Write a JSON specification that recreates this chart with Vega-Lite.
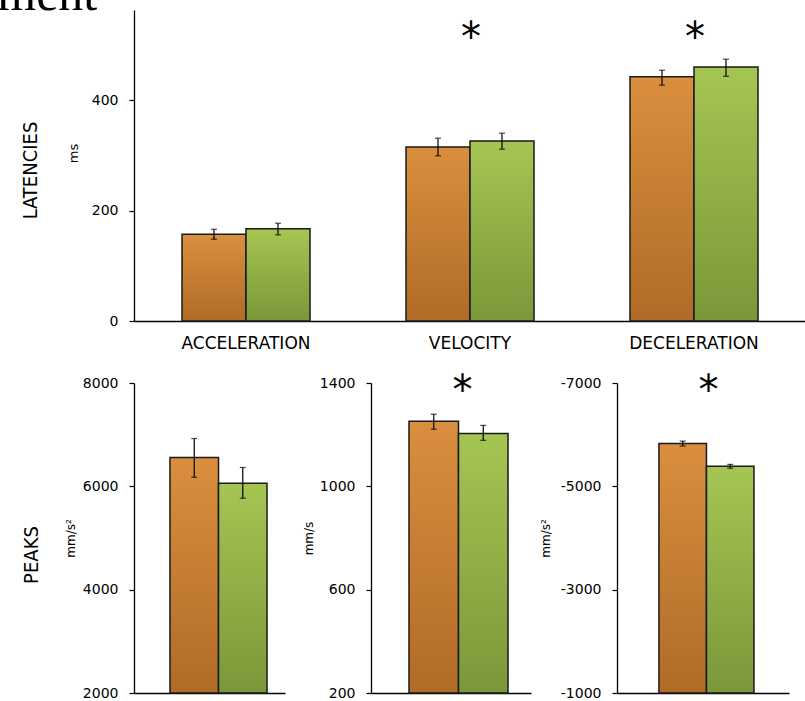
{
  "$schema": "https://vega.github.io/schema/vega-lite/v6.json",
  "padding": {"left": -3, "top": -30, "right": 0, "bottom": 0},
  "title": {"text": "ment", "anchor": "start", "frame": "bounds", "font": "Liberation Serif", "fontSize": 50, "fontWeight": "normal", "color": "#000", "dx": -24, "offset": -10},
  "datasets": {
    "lat": [
      {"phase": "ACCELERATION", "group": "A", "mean": 157, "lo": 148, "hi": 166},
      {"phase": "ACCELERATION", "group": "B", "mean": 167, "lo": 156, "hi": 177},
      {"phase": "VELOCITY", "group": "A", "mean": 315, "lo": 299, "hi": 331},
      {"phase": "VELOCITY", "group": "B", "mean": 326, "lo": 311, "hi": 340},
      {"phase": "DECELERATION", "group": "A", "mean": 442, "lo": 427, "hi": 454},
      {"phase": "DECELERATION", "group": "B", "mean": 460, "lo": 443, "hi": 474}
    ],
    "acc": [
      {"phase": "ACCELERATION", "group": "A", "mean": 6560, "lo": 6175, "hi": 6925},
      {"phase": "ACCELERATION", "group": "B", "mean": 6060, "lo": 5770, "hi": 6365}
    ],
    "vel": [
      {"phase": "VELOCITY", "group": "A", "mean": 1252, "lo": 1221, "hi": 1279},
      {"phase": "VELOCITY", "group": "B", "mean": 1205, "lo": 1178, "hi": 1236}
    ],
    "dec": [
      {"phase": "DECELERATION", "group": "A", "mean": -5830, "lo": -5780, "hi": -5875},
      {"phase": "DECELERATION", "group": "B", "mean": -5387, "lo": -5350, "hi": -5425}
    ],
    "stars": [
      {"phase": "VELOCITY", "sig": "*"},
      {"phase": "DECELERATION", "sig": "*"}
    ]
  },
  "config": {
    "view": {"stroke": null},
    "font": "DejaVu Sans",
    "axis": {"domainColor": "#000", "domainWidth": 1.3, "tickColor": "#000", "tickWidth": 1.2, "tickSize": 5, "labelColor": "#000", "labelFont": "DejaVu Sans", "labelFontSize": 14, "labelPadding": 11, "titleFont": "DejaVu Sans", "titleFontWeight": "normal", "titleColor": "#000", "grid": false},
    "title": {"font": "Liberation Sans Narrow, DejaVu Sans Condensed, sans-serif", "fontWeight": "normal", "color": "#000"}
  },
  "bounds": "flush",
  "spacing": 62,
  "resolve": {"scale": {"x": "independent", "y": "independent", "xOffset": "independent"}},
  "vconcat": [
    {
      "width": 672,
      "height": 311,
      "title": {"text": "LATENCIES", "orient": "left", "fontSize": 20, "offset": 26, "dx": -5},
      "data": {"name": "lat"},
      "encoding": {
        "x": {"field": "phase", "type": "nominal", "sort": ["ACCELERATION", "VELOCITY", "DECELERATION"], "scale": {"paddingInner": 0, "paddingOuter": 0}, "axis": {"title": null, "labelAngle": 0, "ticks": false, "labelPadding": 14, "labelFontSize": 17}}
      },
      "layer": [
        {
          "mark": {"type": "bar", "stroke": "#1a1a1a", "strokeWidth": 1.5},
          "encoding": {
            "xOffset": {"field": "group", "type": "nominal", "scale": {"paddingInner": 0, "paddingOuter": 0.75}},
            "y": {"field": "mean", "type": "quantitative", "title": "ms", "scale": {"domain": [0, 563], "nice": false}, "axis": {"values": [0, 200, 400], "title": "ms", "titleFontSize": 13, "titlePadding": 11, "titleY": 143}},
            "fill": {"condition": {"test": "datum.group === 'A'", "value": {"gradient": "linear", "x1": 0, "y1": 0, "x2": 0, "y2": 1, "stops": [{"offset": 0, "color": "#d98f3e"}, {"offset": 1, "color": "#b06b28"}]}}, "value": {"gradient": "linear", "x1": 0, "y1": 0, "x2": 0, "y2": 1, "stops": [{"offset": 0, "color": "#a5c553"}, {"offset": 1, "color": "#7a9839"}]}}
          }
        },
        {
          "mark": {"type": "rule", "color": "#000", "strokeWidth": 1.2},
          "encoding": {
            "xOffset": {"field": "group", "type": "nominal", "scale": {"paddingInner": 0, "paddingOuter": 0.75}},
            "y": {"field": "lo", "type": "quantitative", "title": "ms", "axis": {"values": [0, 200, 400], "title": "ms", "titleFontSize": 13, "titlePadding": 11, "titleY": 143}},
            "y2": {"field": "hi"}
          }
        },
        {
          "mark": {"type": "tick", "color": "#000", "size": 6, "thickness": 1.2},
          "encoding": {
            "xOffset": {"field": "group", "type": "nominal", "scale": {"paddingInner": 0, "paddingOuter": 0.75}},
            "y": {"field": "lo", "type": "quantitative", "title": "ms", "axis": {"values": [0, 200, 400], "title": "ms", "titleFontSize": 13, "titlePadding": 11, "titleY": 143}}
          }
        },
        {
          "mark": {"type": "tick", "color": "#000", "size": 6, "thickness": 1.2},
          "encoding": {
            "xOffset": {"field": "group", "type": "nominal", "scale": {"paddingInner": 0, "paddingOuter": 0.75}},
            "y": {"field": "hi", "type": "quantitative", "title": "ms", "axis": {"values": [0, 200, 400], "title": "ms", "titleFontSize": 13, "titlePadding": 11, "titleY": 143}}
          }
        },
        {
          "data": {"name": "stars"},
          "mark": {"type": "text", "fontSize": 40, "baseline": "middle", "font": "DejaVu Sans", "color": "#000", "dx": 1},
          "encoding": {
            "y": {"datum": 511, "type": "quantitative", "title": "ms", "axis": {"values": [0, 200, 400], "title": "ms", "titleFontSize": 13, "titlePadding": 11, "titleY": 143}},
            "text": {"field": "sig"}
          }
        }
      ]
    },
    {
      "bounds": "flush",
      "spacing": 86,
      "resolve": {"scale": {"x": "independent", "y": "independent", "xOffset": "independent"}},
      "hconcat": [
        {
          "width": 151,
          "height": 310,
          "title": {"text": "PEAKS", "orient": "left", "fontSize": 20, "offset": 22, "dx": -17},
          "data": {"name": "acc"},
          "encoding": {
            "x": {"field": "phase", "type": "nominal", "scale": {"paddingInner": 0, "paddingOuter": 0.278, "align": 0.667}, "axis": {"title": null, "labels": false, "ticks": false}},
            "xOffset": {"field": "group", "type": "nominal", "scale": {"paddingInner": 0, "paddingOuter": 0}}
          },
          "layer": [
            {
              "mark": {"type": "bar", "stroke": "#1a1a1a", "strokeWidth": 1.5},
              "encoding": {
                "y": {"field": "mean", "type": "quantitative", "title": "mm/s²", "scale": {"domain": [2000, 8000], "nice": false, "zero": false}, "axis": {"values": [2000, 4000, 6000, 8000], "format": "d", "title": "mm/s²", "titleFontSize": 12, "titlePadding": 5}},
                "y2": {"datum": 2000},
                "fill": {"condition": {"test": "datum.group === 'A'", "value": {"gradient": "linear", "x1": 0, "y1": 0, "x2": 0, "y2": 1, "stops": [{"offset": 0, "color": "#d98f3e"}, {"offset": 1, "color": "#b06b28"}]}}, "value": {"gradient": "linear", "x1": 0, "y1": 0, "x2": 0, "y2": 1, "stops": [{"offset": 0, "color": "#a5c553"}, {"offset": 1, "color": "#7a9839"}]}}
              }
            },
            {
              "mark": {"type": "rule", "color": "#000", "strokeWidth": 1.2},
              "encoding": {
                "y": {"field": "lo", "type": "quantitative", "title": "mm/s²", "axis": {"values": [2000, 4000, 6000, 8000], "format": "d", "title": "mm/s²", "titleFontSize": 12, "titlePadding": 5}},
                "y2": {"field": "hi"}
              }
            },
            {
              "mark": {"type": "tick", "color": "#000", "size": 6, "thickness": 1.2},
              "encoding": {
                "y": {"field": "lo", "type": "quantitative", "title": "mm/s²", "axis": {"values": [2000, 4000, 6000, 8000], "format": "d", "title": "mm/s²", "titleFontSize": 12, "titlePadding": 5}}
              }
            },
            {
              "mark": {"type": "tick", "color": "#000", "size": 6, "thickness": 1.2},
              "encoding": {
                "y": {"field": "hi", "type": "quantitative", "title": "mm/s²", "axis": {"values": [2000, 4000, 6000, 8000], "format": "d", "title": "mm/s²", "titleFontSize": 12, "titlePadding": 5}}
              }
            }
          ]
        },
        {
          "width": 160,
          "height": 310,
          "data": {"name": "vel"},
          "encoding": {
            "x": {"field": "phase", "type": "nominal", "scale": {"paddingInner": 0, "paddingOuter": 0.308, "align": 0.623}, "axis": {"title": null, "labels": false, "ticks": false}}
          },
          "layer": [
            {
              "mark": {"type": "bar", "stroke": "#1a1a1a", "strokeWidth": 1.5},
              "encoding": {
                "xOffset": {"field": "group", "type": "nominal", "scale": {"paddingInner": 0, "paddingOuter": 0}},
                "y": {"field": "mean", "type": "quantitative", "title": "mm/s", "scale": {"domain": [200, 1400], "nice": false, "zero": false}, "axis": {"values": [200, 600, 1000, 1400], "format": "d", "title": "mm/s", "titleFontSize": 12, "titlePadding": 4}},
                "y2": {"datum": 200},
                "fill": {"condition": {"test": "datum.group === 'A'", "value": {"gradient": "linear", "x1": 0, "y1": 0, "x2": 0, "y2": 1, "stops": [{"offset": 0, "color": "#d98f3e"}, {"offset": 1, "color": "#b06b28"}]}}, "value": {"gradient": "linear", "x1": 0, "y1": 0, "x2": 0, "y2": 1, "stops": [{"offset": 0, "color": "#a5c553"}, {"offset": 1, "color": "#7a9839"}]}}
              }
            },
            {
              "mark": {"type": "rule", "color": "#000", "strokeWidth": 1.2},
              "encoding": {
                "xOffset": {"field": "group", "type": "nominal", "scale": {"paddingInner": 0, "paddingOuter": 0}},
                "y": {"field": "lo", "type": "quantitative", "title": "mm/s", "axis": {"values": [200, 600, 1000, 1400], "format": "d", "title": "mm/s", "titleFontSize": 12, "titlePadding": 4}},
                "y2": {"field": "hi"}
              }
            },
            {
              "mark": {"type": "tick", "color": "#000", "size": 6, "thickness": 1.2},
              "encoding": {
                "xOffset": {"field": "group", "type": "nominal", "scale": {"paddingInner": 0, "paddingOuter": 0}},
                "y": {"field": "lo", "type": "quantitative", "title": "mm/s", "axis": {"values": [200, 600, 1000, 1400], "format": "d", "title": "mm/s", "titleFontSize": 12, "titlePadding": 4}}
              }
            },
            {
              "mark": {"type": "tick", "color": "#000", "size": 6, "thickness": 1.2},
              "encoding": {
                "xOffset": {"field": "group", "type": "nominal", "scale": {"paddingInner": 0, "paddingOuter": 0}},
                "y": {"field": "hi", "type": "quantitative", "title": "mm/s", "axis": {"values": [200, 600, 1000, 1400], "format": "d", "title": "mm/s", "titleFontSize": 12, "titlePadding": 4}}
              }
            },
            {
              "data": {"name": "stars"},
              "transform": [{"filter": "datum.phase === 'VELOCITY'"}],
              "mark": {"type": "text", "fontSize": 40, "baseline": "middle", "font": "DejaVu Sans", "color": "#000", "dx": 4},
              "encoding": {
                "y": {"datum": 1365, "type": "quantitative", "title": "mm/s", "axis": {"values": [200, 600, 1000, 1400], "format": "d", "title": "mm/s", "titleFontSize": 12, "titlePadding": 4}},
                "text": {"field": "sig"}
              }
            }
          ]
        },
        {
          "width": 172,
          "height": 310,
          "data": {"name": "dec"},
          "encoding": {
            "x": {"field": "phase", "type": "nominal", "scale": {"paddingInner": 0, "paddingOuter": 0.405, "align": 0.545}, "axis": {"title": null, "labels": false, "ticks": false}}
          },
          "layer": [
            {
              "mark": {"type": "bar", "stroke": "#1a1a1a", "strokeWidth": 1.5},
              "encoding": {
                "xOffset": {"field": "group", "type": "nominal", "scale": {"paddingInner": 0, "paddingOuter": 0}},
                "y": {"field": "mean", "type": "quantitative", "title": "mm/s²", "scale": {"domain": [-7000, -1000], "nice": false, "zero": false, "reverse": true}, "axis": {"values": [-7000, -5000, -3000, -1000], "labelExpr": "'' + datum.value", "title": "mm/s²", "titleFontSize": 12, "titlePadding": 8}},
                "y2": {"datum": -1000},
                "fill": {"condition": {"test": "datum.group === 'A'", "value": {"gradient": "linear", "x1": 0, "y1": 0, "x2": 0, "y2": 1, "stops": [{"offset": 0, "color": "#d98f3e"}, {"offset": 1, "color": "#b06b28"}]}}, "value": {"gradient": "linear", "x1": 0, "y1": 0, "x2": 0, "y2": 1, "stops": [{"offset": 0, "color": "#a5c553"}, {"offset": 1, "color": "#7a9839"}]}}
              }
            },
            {
              "mark": {"type": "rule", "color": "#000", "strokeWidth": 1.2},
              "encoding": {
                "xOffset": {"field": "group", "type": "nominal", "scale": {"paddingInner": 0, "paddingOuter": 0}},
                "y": {"field": "lo", "type": "quantitative", "title": "mm/s²", "axis": {"values": [-7000, -5000, -3000, -1000], "labelExpr": "'' + datum.value", "title": "mm/s²", "titleFontSize": 12, "titlePadding": 8}},
                "y2": {"field": "hi"}
              }
            },
            {
              "mark": {"type": "tick", "color": "#000", "size": 6, "thickness": 1.2},
              "encoding": {
                "xOffset": {"field": "group", "type": "nominal", "scale": {"paddingInner": 0, "paddingOuter": 0}},
                "y": {"field": "lo", "type": "quantitative", "title": "mm/s²", "axis": {"values": [-7000, -5000, -3000, -1000], "labelExpr": "'' + datum.value", "title": "mm/s²", "titleFontSize": 12, "titlePadding": 8}}
              }
            },
            {
              "mark": {"type": "tick", "color": "#000", "size": 6, "thickness": 1.2},
              "encoding": {
                "xOffset": {"field": "group", "type": "nominal", "scale": {"paddingInner": 0, "paddingOuter": 0}},
                "y": {"field": "hi", "type": "quantitative", "title": "mm/s²", "axis": {"values": [-7000, -5000, -3000, -1000], "labelExpr": "'' + datum.value", "title": "mm/s²", "titleFontSize": 12, "titlePadding": 8}}
              }
            },
            {
              "data": {"name": "stars"},
              "transform": [{"filter": "datum.phase === 'DECELERATION'"}],
              "mark": {"type": "text", "fontSize": 40, "baseline": "middle", "font": "DejaVu Sans", "color": "#000", "dx": 2},
              "encoding": {
                "y": {"datum": -6827, "type": "quantitative", "title": "mm/s²", "axis": {"values": [-7000, -5000, -3000, -1000], "labelExpr": "'' + datum.value", "title": "mm/s²", "titleFontSize": 12, "titlePadding": 8}},
                "text": {"field": "sig"}
              }
            }
          ]
        }
      ]
    }
  ]
}
